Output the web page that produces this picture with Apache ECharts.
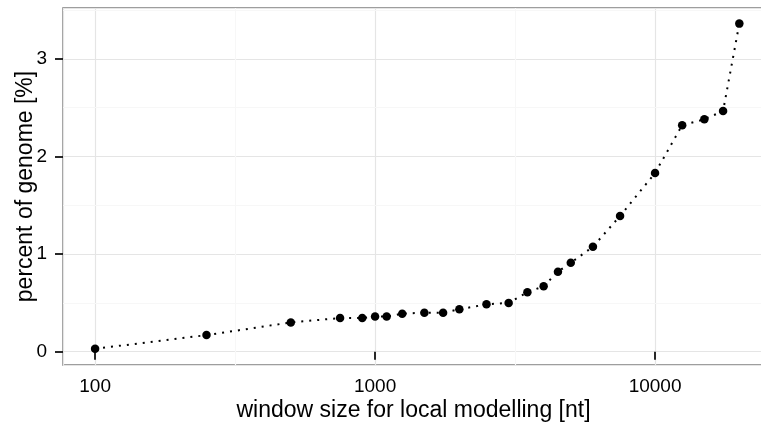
<!DOCTYPE html>
<html>
<head>
<meta charset="utf-8">
<script src="https://cdn.jsdelivr.net/npm/echarts@6/dist/echarts.min.js"></script>
<style>
  html, body { margin: 0; padding: 0; background: #fff; }
  #chart { width: 761px; height: 423px; }
</style>
</head>
<body>
<div id="chart"></div>
<script>
// window size [nt] vs percent of genome
var windowSizes = [100, 250, 500, 750, 900, 1000, 1100, 1250, 1500, 1750, 2000, 2500,
                   3000, 3500, 4000, 4500, 5000, 6000, 7500, 10000, 12500, 15000, 17500, 20000];
var percentGenome = [0.03, 0.17, 0.30, 0.345, 0.345, 0.36, 0.36, 0.39, 0.40, 0.40, 0.435, 0.485,
                     0.50, 0.61, 0.67, 0.82, 0.91, 1.075, 1.39, 1.83, 2.32, 2.38, 2.465, 3.36];
var xMinorGrid = [316.23, 3162.3];
var yMinorGrid = [0.5, 1.5, 2.5, 3.5];

var pts = [];
for (var i = 0; i < windowSizes.length; i++) {
	pts.push([windowSizes[i], percentGenome[i]]);
}

var minorLines = [];
for (var i = 0; i < xMinorGrid.length; i++) minorLines.push({ xAxis: xMinorGrid[i] });
for (var i = 0; i < yMinorGrid.length; i++) minorLines.push({ yAxis: yMinorGrid[i] });

var font = 'Liberation Sans, Arial, Helvetica, sans-serif';

var chart = echarts.init(document.getElementById('chart'));
chart.setOption({
	animation: false,
	grid: {
		left: 63, top: 8, right: -3, bottom: 58,
		outerBoundsMode: 'none',
		containLabel: false,
		show: true, borderColor: '#7f7f7f', borderWidth: 1.5
	},
	xAxis: {
		type: 'log',
		logBase: 10,
		min: 76.8,
		max: 24500,
		name: 'window size for local modelling [nt]',
		nameLocation: 'middle',
		nameGap: 34,
		nameMoveOverlap: false,
		nameTextStyle: { fontFamily: font, fontSize: 23, color: '#000' },
		axisLine: { show: false },
		axisTick: { length: 8, lineStyle: { color: '#111', width: 1.8 } },
		axisLabel: { showMinLabel: false, showMaxLabel: false, margin: 12,
			fontFamily: font, fontSize: 19, color: '#000',
			formatter: function (v) { return String(Math.round(v)); } },
		splitLine: { lineStyle: { color: '#e5e5e5', width: 1.2 } }
	},
	yAxis: {
		type: 'value',
		min: -0.136,
		max: 3.52,
		splitNumber: 4,
		name: 'percent of genome [%]',
		nameLocation: 'middle',
		nameGap: 26,
		nameMoveOverlap: false,
		nameTextStyle: { fontFamily: font, fontSize: 23, color: '#000' },
		axisLine: { show: false },
		axisTick: { length: 8, lineStyle: { color: '#111', width: 1.8 } },
		axisLabel: { showMinLabel: false, showMaxLabel: false, margin: 16,
			fontFamily: font, fontSize: 19, color: '#000' },
		splitLine: { lineStyle: { color: '#e5e5e5', width: 1.2 } }
	},
	series: [{
		type: 'line',
		data: pts,
		symbol: 'circle',
		symbolSize: 8.5,
		itemStyle: { color: '#000' },
		lineStyle: { color: '#000', width: 2, type: [2, 6] },
		markLine: {
			silent: true,
			symbol: 'none',
			label: { show: false },
			lineStyle: { color: '#f7f7f7', width: 1.2, type: 'solid' },
			data: minorLines,
			z: 0
		}
	}]
});
</script>
</body>
</html>
